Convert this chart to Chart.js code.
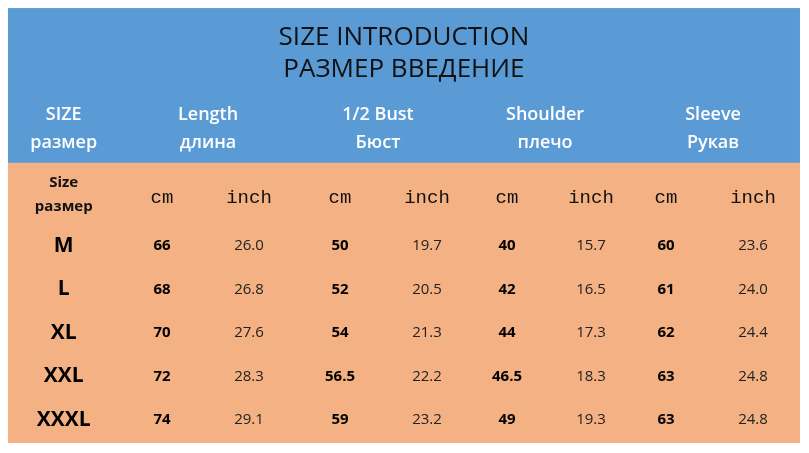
<!DOCTYPE html>
<html><head><meta charset="utf-8">
<script src="https://cdn.jsdelivr.net/npm/chart.js@4/dist/chart.umd.min.js"></script>
<style>html,body{margin:0;padding:0;background:#fff}#c{display:block}</style>
</head><body>
<div style="width:809px;height:453px"><canvas id="c"></canvas></div>
<script>
const titles = ['SIZE INTRODUCTION', 'РАЗМЕР ВВЕДЕНИЕ'];
const groups = [['SIZE', 'размер'], ['Length', 'длина'], ['1/2 Bust', 'Бюст'], ['Shoulder', 'плечо'], ['Sleeve', 'Рукав']];
const sizes = ['M', 'L', 'XL', 'XXL', 'XXXL'];
const lengthCm = ['66', '68', '70', '72', '74'];
const lengthIn = ['26.0', '26.8', '27.6', '28.3', '29.1'];
const bustCm = ['50', '52', '54', '56.5', '59'];
const bustIn = ['19.7', '20.5', '21.3', '22.2', '23.2'];
const shoulderCm = ['40', '42', '44', '46.5', '49'];
const shoulderIn = ['15.7', '16.5', '17.3', '18.3', '19.3'];
const sleeveCm = ['60', '61', '62', '63', '63'];
const sleeveIn = ['23.6', '24.0', '24.4', '24.8', '24.8'];

const cmCols = [lengthCm, bustCm, shoulderCm, sleeveCm];
const inCols = [lengthIn, bustIn, shoulderIn, sleeveIn];
const colX = [-1.17, 0, 1.036, 2.119, 3.155, 4.107, 5.107, 6, 7.036];

const tablePlugin = {
  id: 'table',
  beforeDraw(chart) {
    const ctx = chart.ctx, xs = chart.scales.x, ys = chart.scales.y;
    const X = v => xs.getPixelForValue(v), Y = v => ys.getPixelForValue(v);
    const text = (s, x, y, font, color) => {
      ctx.font = font; ctx.fillStyle = color; ctx.textAlign = 'center'; ctx.textBaseline = 'middle';
      ctx.fillText(s, X(x), Y(y));
    };
    ctx.save();
    ctx.fillStyle = '#5b9bd5';
    ctx.fillRect(X(-1.834), Y(-5.47), X(7.595) - X(-1.834), Y(-1.91) - Y(-5.47));
    ctx.fillStyle = '#f4b183';
    ctx.fillRect(X(-1.834), Y(-1.91), X(7.595) - X(-1.834), Y(4.53) - Y(-1.91));

    text(titles[0], 2.88, -4.8, '26px "Open Sans"', '#111');
    text(titles[1], 2.88, -4.05, '26px "Open Sans"', '#111');

    const groupX = [colX[0], 0.548, 2.571, 4.56, 6.56];
    groups.forEach((g, i) => {
      text(g[0], groupX[i], -3.01, '600 18px "Open Sans"', '#fff');
      text(g[1], groupX[i], -2.37, '600 18px "Open Sans"', '#fff');
    });

    text('Size', colX[0], -1.45, 'bold 15px "Open Sans"', '#111');
    text('размер', colX[0], -0.9, 'bold 15px "Open Sans"', '#111');
    for (let g = 0; g < 4; g++) {
      text('cm', colX[1 + g * 2], -1.1, '19px "Liberation Mono"', '#111');
      text('inch', colX[2 + g * 2], -1.1, '19px "Liberation Mono"', '#111');
    }

    sizes.forEach((s, r) => {
      text(s, colX[0], r, 'bold 21px "Open Sans"', '#000');
      for (let g = 0; g < 4; g++) {
        text(cmCols[g][r], colX[1 + g * 2], r, 'bold 15px "Open Sans"', '#000');
        text(inCols[g][r], colX[2 + g * 2], r, '15px "Open Sans"', '#222');
      }
    });
    ctx.restore();
  }
};

new Chart(document.getElementById('c'), {
  type: 'scatter',
  data: { datasets: [{ data: [] }] },
  options: {
    responsive: true, maintainAspectRatio: false, animation: false,
    layout: { padding: 0 },
    plugins: { legend: { display: false }, tooltip: { enabled: false } },
    scales: {
      x: { type: 'linear', display: false, min: -162 / 84, max: -162 / 84 + 809 / 84 },
      y: { type: 'linear', display: false, reverse: true, min: -246 / 43.5, max: -246 / 43.5 + 453 / 43.5 }
    }
  },
  plugins: [tablePlugin]
});
</script>
</body></html>
